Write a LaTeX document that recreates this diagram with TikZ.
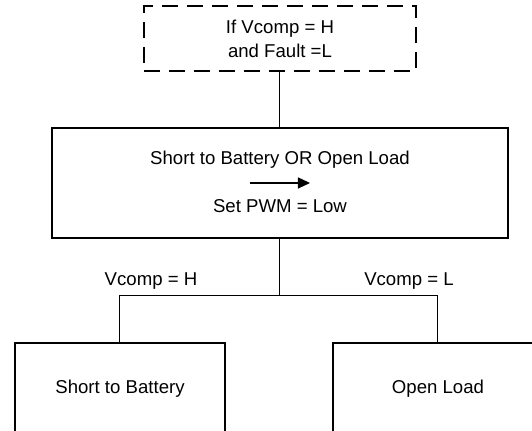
\documentclass[tikz,border=0pt]{standalone}
\usepackage{fontspec}
\setmainfont{Liberation Sans}
\usepackage{tikz}
\usetikzlibrary{arrows.meta, positioning}

\begin{document}
\begin{tikzpicture}[
  x=0.5pt, y=-0.5pt,
  box/.style={draw, line width=1pt, align=center, inner sep=0pt, font=\fontsize{9.3}{12}\selectfont},
  condbox/.style={box, dash pattern=on 8pt off 4.5pt, minimum width=136pt, minimum height=32.5pt},
  mainbox/.style={box, minimum width=228pt, minimum height=55pt},
  leafbox/.style={box, minimum width=105pt, minimum height=46pt},
  txt/.style={inner sep=0pt, font=\fontsize{9.3}{12}\selectfont},
  wire/.style={line width=0.5pt},
  arr/.style={-{Triangle[length=6pt, width=5.5pt]}, line width=0.6pt},
]
\useasboundingbox (0,0) rectangle (532,431);

% condition
\node[condbox] (cond) at (280,39) {If Vcomp = H\\and Fault =L};

% fault detection
\node[mainbox] (main) at (280,183.5) {};
\node[txt] (faulttxt) at (280,160) {Short to Battery OR Open Load};
\node[txt] (pwmtxt) at (280,206) {Set PWM = Low};
\coordinate (arrL) at (250,183);
\coordinate (arrR) at (310,183);
\draw[arr] (arrL) -- (arrR);

% branches
\coordinate (split) at (280,296);
\node[leafbox] (stb) at (120,389) {Short to Battery};
\node[leafbox] (ol) at (438,389) {Open Load};
\node[txt] (lblH) at (151,281) {Vcomp = H};
\node[txt] (lblL) at (409,281) {Vcomp = L};

% connectors
\draw[wire] (cond.south) -- (main.north);
\draw[wire] (main.south) -- (split);
\draw[wire] (split) -| (stb.north);
\draw[wire] (split) -| (ol.north);

\end{tikzpicture}
\end{document}
